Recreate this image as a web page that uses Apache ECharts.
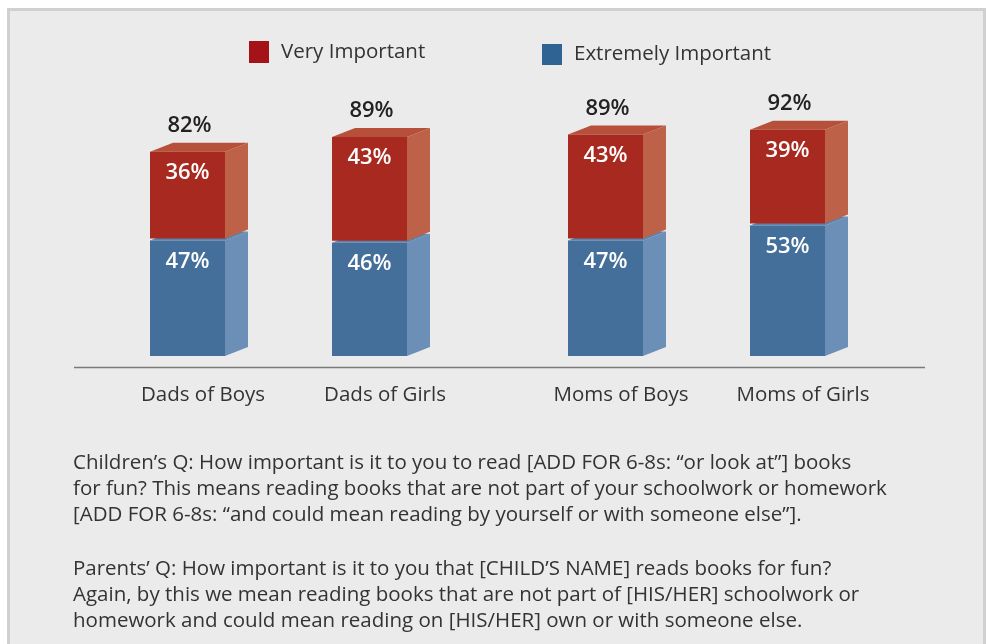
<!DOCTYPE html>
<html>
<head>
<meta charset="utf-8">
<script src="https://cdn.jsdelivr.net/npm/echarts@6/dist/echarts.min.js"></script>
<style>
  html, body { margin: 0; padding: 0; background: #ffffff; }
  #chart { width: 989px; height: 644px; }
</style>
</head>
<body>
<div id="chart"></div>
<script>
const categories = ['Dads of Boys', 'Dads of Girls', 'Moms of Boys', 'Moms of Girls']
const veryImportant = [36, 43, 43, 39]
const extremelyImportant = [47, 46, 47, 53]
const totals = [82, 89, 89, 92]

const FONT = '"Open Sans", "DejaVu Sans", sans-serif'

// 3d box drawn from the axis coords
const renderBox = (colors, isTop) => (params, api) => {
	const idx = api.value(0)
	const base = api.value(1)
	const top = api.value(2)
	const cx = api.coord([idx, 0])[0]
	const w = 75, dx = 23, dy = 9
	const left = cx - (w + dx) / 2
	const right = left + w
	let y0 = api.coord([idx, base])[1]
	const y1 = api.coord([idx, top])[1]
	if (isTop) y0 -= 2
	const children = [
		{
			type: 'polygon',
			shape: { points: [[right, y1], [right + dx, y1 - dy], [right + dx, y0 - dy], [right, y0]] },
			style: { fill: colors.side }
		},
		{
			type: 'polygon',
			shape: { points: [[left, y1], [left + dx, y1 - dy], [right + dx, y1 - dy], [right, y1]] },
			style: { fill: colors.top }
		},
		{
			type: 'rect',
			shape: { x: left, y: y1, width: w, height: y0 - y1 },
			style: { fill: colors.front }
		},
		{
			type: 'text',
			style: {
				x: left + w / 2, y: y1 + 21,
				text: api.value(3) + '%',
				fill: '#ffffff', font: '600 22px ' + FONT,
				align: 'center', verticalAlign: 'middle'
			}
		}
	]
	if (isTop) {
		children.push({
			type: 'text',
			style: {
				x: left + w / 2 + 2, y: y1 - 26,
				text: api.value(4) + '%',
				fill: '#222222', font: '600 22px ' + FONT,
				align: 'center', verticalAlign: 'middle'
			}
		})
	}
	return { type: 'group', children: children }
}

const redColors = { front: '#a8291f', side: '#bd6149', top: '#b7503b' }
const blueColors = { front: '#436f9a', side: '#6c8fb7', top: '#5d83ad' }

const makeSeries = (gridIndex, offset) => {
	const blueData = [], redData = []
	for (let i = 0; i < 2; i++) {
		const k = offset + i
		blueData.push([i, 0, extremelyImportant[k], extremelyImportant[k]])
		redData.push([i, extremelyImportant[k], extremelyImportant[k] + veryImportant[k], veryImportant[k], totals[k]])
	}
	return [
		{
			name: 'Extremely Important', type: 'custom',
			xAxisIndex: gridIndex, yAxisIndex: gridIndex,
			itemStyle: { color: '#2e6394' },
			renderItem: renderBox(blueColors, false),
			data: blueData
		},
		{
			name: 'Very Important', type: 'custom',
			xAxisIndex: gridIndex, yAxisIndex: gridIndex,
			itemStyle: { color: '#a31318' },
			renderItem: renderBox(redColors, true),
			data: redData
		}
	]
}

const xAxisFor = (gridIndex, cats) => ({
	type: 'category', gridIndex: gridIndex, data: cats,
	axisLine: { show: false }, axisTick: { show: false },
	axisLabel: { color: '#333333', fontSize: 20.5, fontFamily: FONT, margin: 29, padding: [0, 0, 0, 8] }
})

const yAxisFor = (gridIndex) => ({
	type: 'value', gridIndex: gridIndex, min: 0, max: 100, show: false
})

const legendText = { color: '#333333', fontSize: 20.5, fontFamily: FONT, padding: [5, 0, 0, 7] }

const myChart = echarts.init(document.getElementById('chart'))
myChart.setOption({
	animation: false,
	backgroundColor: '#ffffff',
	grid: [
		{ left: 108, top: 110, width: 364, height: 246 },
		{ left: 526, top: 110, width: 364, height: 246 }
	],
	xAxis: [xAxisFor(0, categories.slice(0, 2)), xAxisFor(1, categories.slice(2))],
	yAxis: [yAxisFor(0), yAxisFor(1)],
	legend: [
		{
			data: ['Very Important'], left: 249, top: 41, padding: 0, icon: 'rect',
			itemWidth: 20, itemHeight: 22, textStyle: legendText
		},
		{
			data: ['Extremely Important'], left: 542, top: 44, padding: 0, icon: 'rect',
			itemWidth: 20, itemHeight: 21, textStyle: legendText
		}
	],
	graphic: [
		{
			type: 'rect', z: -10, silent: true,
			shape: { x: 8.5, y: 9.5, width: 976, height: 700 },
			style: { fill: '#ebebeb', stroke: '#d3cfd1', lineWidth: 3 }
		},
		{
			type: 'line', silent: true,
			shape: { x1: 74, y1: 367.5, x2: 925, y2: 367.5 },
			style: { stroke: '#7a7a7a', lineWidth: 1.5 }
		},
		{
			type: 'text', left: 73, top: 450,
			style: {
				text: 'Children\u2019s Q: How important is it to you to read [ADD FOR 6-8s: \u201cor look at\u201d] books\n' +
					'for fun? This means reading books that are not part of your schoolwork or homework\n' +
					'[ADD FOR 6-8s: \u201cand could mean reading by yourself or with someone else\u201d].',
				fill: '#333333', font: '20.5px ' + FONT, lineHeight: 26
			}
		},
		{
			type: 'text', left: 73, top: 556,
			style: {
				text: 'Parents\u2019 Q: How important is it to you that [CHILD\u2019S NAME] reads books for fun?\n' +
					'Again, by this we mean reading books that are not part of [HIS/HER] schoolwork or\n' +
					'homework and could mean reading on [HIS/HER] own or with someone else.',
				fill: '#333333', font: '20.5px ' + FONT, lineHeight: 26
			}
		}
	],
	series: [...makeSeries(0, 0), ...makeSeries(1, 2)]
})
</script>
</body>
</html>
